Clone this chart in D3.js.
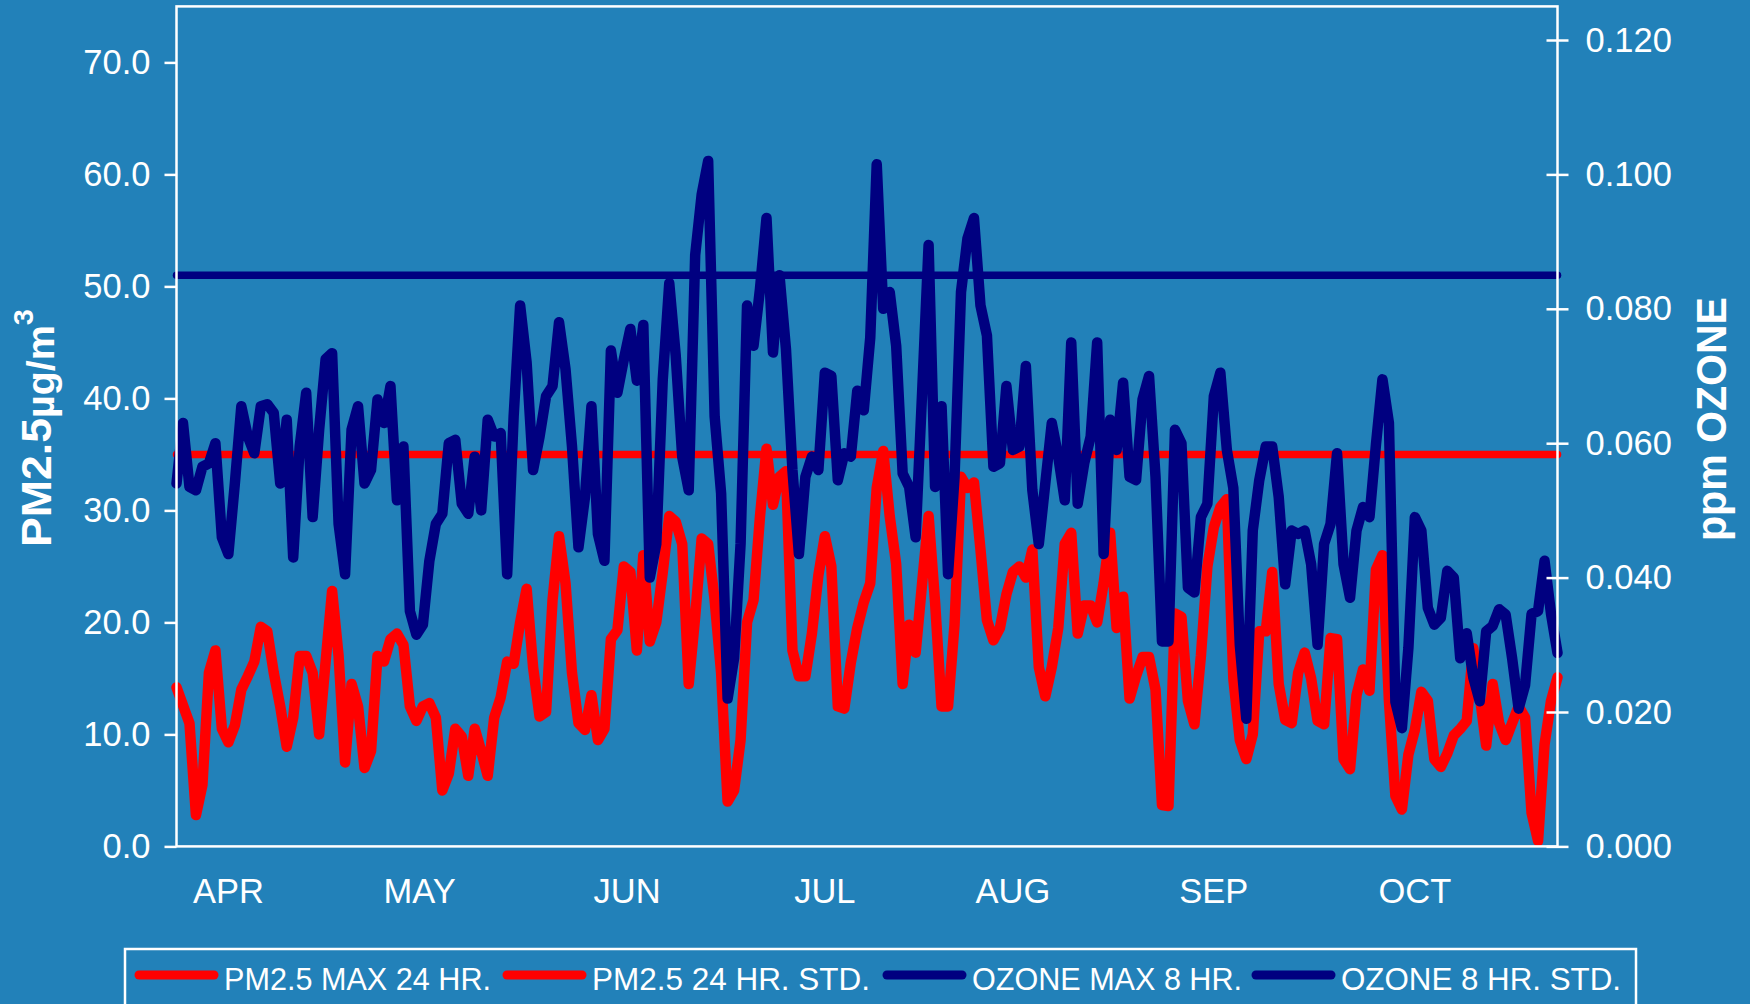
<!DOCTYPE html>
<html>
<head>
<meta charset="utf-8">
<script src="https://cdn.jsdelivr.net/npm/d3@7"></script>
<style>
html,body{margin:0;padding:0;background:#2281b9;}
svg{display:block;}
text{font-family:"Liberation Sans",Arial,sans-serif;fill:#fff;}
</style>
</head>
<body>
<svg id="chart" width="1750" height="1004"></svg>
<script>
// ---- DATA (daily, Apr 1 .. Oct 31) ----
const pm25Max = [
14.2,12.6,11.0,2.8,5.5,15.5,17.5,10.5,9.3,10.8,14.0,15.2,16.5,19.6,19.2,15.5,12.5,8.9,11.5,17.0,17.0,15.5,10.0,16.5,22.8,17.0,7.5,
14.5,12.5,7.0,8.5,17.0,16.5,18.5,19.0,18.0,12.5,11.2,12.5,12.8,11.5,5.0,6.5,10.5,9.8,6.3,10.5,8.5,6.3,11.5,13.3,16.5,
16.3,20.0,23.0,16.0,11.6,12.0,22.0,27.7,23.5,15.5,11.0,10.4,13.5,9.5,10.5,18.5,19.3,25.0,24.5,17.5,26.0,18.3,20.0,24.5,29.5,29.0,
27.0,14.5,20.5,27.5,27.0,22.0,15.5,4.0,5.0,9.5,20.0,22.0,29.5,35.5,30.5,33.0,33.5,
17.5,15.2,15.2,19.0,24.2,27.7,25.0,12.5,12.3,16.4,19.5,21.8,23.5,32.0,35.3,29.5,25.2,14.5,19.8,17.3,23.5,29.5,21.8,12.5,12.5,19.8,33.0,32.0,32.5,26.5,20.2,18.4,19.5,22.5,24.5,25.0,24.0,
26.5,16.0,13.4,16.0,19.5,27.0,28.0,19.0,21.5,21.5,20.0,23.5,28.0,19.5,22.3,13.2,15.2,16.9,16.9,14.0,3.7,3.6,20.8,20.5,13.0,10.9,17.0,25.0,28.5,30.3,31.0,15.0,9.5,7.8,10.0,19.2,19.2,24.5,14.5,11.3,
11.0,15.5,17.3,15.0,11.2,10.9,18.6,18.5,7.8,6.9,13.5,15.8,13.9,24.7,26.0,13.0,4.5,3.3,8.2,10.4,13.8,13.0,7.8,7.1,8.3,9.9,10.5,11.2,17.7,13.5,9.0,14.5,11.0,9.5,11.0,12.5,11.5,3.0,0.5,9.1,13.0,15.1
];
const ozoneMax = [
0.0540,0.0630,0.0535,0.0530,0.0565,0.0570,0.0600,0.0460,0.0435,0.0540,0.0655,0.0610,0.0585,0.0655,0.0658,0.0645,0.0540,0.0635,0.0430,0.0595,0.0675,0.0490,0.0620,0.0725,0.0734,0.0480,0.0405,
0.0620,0.0655,0.0540,0.0560,0.0665,0.0630,0.0685,0.0515,0.0595,0.0350,0.0315,0.0330,0.0425,0.0480,0.0495,0.0600,0.0605,0.0510,0.0495,0.0580,0.0500,0.0635,0.0610,0.0615,0.0405,
0.0640,0.0805,0.0720,0.0560,0.0610,0.0670,0.0685,0.0780,0.0710,0.0595,0.0445,0.0520,0.0655,0.0465,0.0425,0.0738,0.0675,0.0725,0.0770,0.0693,0.0776,0.0400,0.0450,0.0695,0.0838,0.0730,
0.0580,0.0530,0.0880,0.0970,0.1020,0.0640,0.0525,0.0220,0.0280,0.0450,0.0805,0.0745,0.0830,0.0935,0.0735,0.0850,0.0740,
0.0560,0.0435,0.0550,0.0580,0.0560,0.0705,0.0700,0.0545,0.0585,0.0580,0.0678,0.0649,0.0757,0.1015,0.0800,0.0825,0.0745,0.0555,0.0535,0.0460,0.0675,0.0895,0.0535,0.0655,0.0405,0.0550,0.0825,0.0905,0.0935,0.0805,0.0760,0.0565,0.0570,0.0685,0.0590,0.0595,0.0715,
0.0530,0.0450,0.0540,0.0630,0.0580,0.0515,0.0750,0.0510,0.0570,0.0610,0.0750,0.0435,0.0635,0.0590,0.0690,0.0550,0.0545,0.0665,0.0700,0.0550,0.0305,0.0305,0.0620,0.0600,0.0385,0.0378,0.0490,0.0510,0.0670,0.0705,0.0590,0.0533,0.0300,0.0190,0.0470,0.0545,0.0595,0.0595,0.0520,0.0390,
0.0470,0.0465,0.0470,0.0420,0.0300,0.0450,0.0480,0.0585,0.0420,0.0370,0.0470,0.0505,0.0490,0.0598,0.0695,0.0630,0.0215,0.0176,0.0295,0.0490,0.0470,0.0355,0.0330,0.0340,0.0410,0.0400,0.0280,0.0317,0.0252,0.0216,0.0320,0.0328,0.0353,0.0345,0.0280,0.0205,0.0240,0.0346,0.0350,0.0425,0.0346,0.0288
];
const pm25Std = 35;
const ozoneStd = 0.085;
const monthLabels = ["APR","MAY","JUN","JUL","AUG","SEP","OCT"];
const monthLabelDay = [8,37.5,69.5,100,129,160,191];
const leftTicks = [0,10,20,30,40,50,60,70];
const rightTicks = [0,0.02,0.04,0.06,0.08,0.10,0.12];
const legendLabels = ["PM2.5 MAX 24 HR.","PM2.5 24 HR. STD.","OZONE MAX 8 HR.","OZONE 8 HR. STD."];
const legendColors = ["#ff0000","#ff0000","#000080","#000080"];

// ---- LAYOUT ----
const svg = d3.select("#chart");
const L = 176.5, R = 1557.5, T = 6.4, B = 846.4;
const RED = "#ff0000", NAVY = "#000080";

const days = d3.range(pm25Max.length);
const x = d3.scaleLinear().domain([0, pm25Max.length - 1]).range([L, R]);
const yL = d3.scaleLinear().domain([0, 75]).range([B, T]);
const yR = d3.scaleLinear().domain([0, 0.125]).range([B, T]);

svg.append("rect").attr("width",1750).attr("height",1004).attr("fill","#2281b9");

// data lines
const linePM = d3.line().x((d,i)=>x(i)).y(d=>yL(d));
const lineOZ = d3.line().x((d,i)=>x(i)).y(d=>yR(d));
const g = svg.append("g");
g.append("path").datum(pm25Max).attr("d",linePM)
  .attr("fill","none").attr("stroke",RED).attr("stroke-width",10.5)
  .attr("stroke-linejoin","round").attr("stroke-linecap","round");
g.append("path").datum(days.map(()=>pm25Std)).attr("d",linePM)
  .attr("fill","none").attr("stroke",RED).attr("stroke-width",7.5)
  .attr("stroke-linecap","round");
g.append("path").datum(ozoneMax).attr("d",lineOZ)
  .attr("fill","none").attr("stroke",NAVY).attr("stroke-width",10.5)
  .attr("stroke-linejoin","round").attr("stroke-linecap","round");
g.append("path").datum(days.map(()=>ozoneStd)).attr("d",lineOZ)
  .attr("fill","none").attr("stroke",NAVY).attr("stroke-width",7.5)
  .attr("stroke-linecap","round");

// frame
svg.append("rect").attr("x",L).attr("y",T).attr("width",R-L).attr("height",B-T)
  .attr("fill","none").attr("stroke","#fff").attr("stroke-width",2.5);

// left axis
const axL = svg.append("g").attr("transform",`translate(${L},0)`)
  .call(d3.axisLeft(yL).tickValues(leftTicks).tickFormat(d3.format(".1f")).tickSize(12).tickPadding(14));
axL.select(".domain").remove();
axL.selectAll("line").attr("stroke","#fff").attr("stroke-width",2.5);
axL.selectAll("text").attr("fill","#fff").style("font-size","34.5px")
  .style("font-family","'Liberation Sans',Arial,sans-serif");

// right axis
const axR = svg.append("g").attr("transform",`translate(${R},0)`)
  .call(d3.axisRight(yR).tickValues(rightTicks).tickFormat(d3.format(".3f")).tickSize(11).tickPadding(17));
axR.select(".domain").remove();
axR.selectAll("line").attr("x1",-11).attr("x2",11).attr("stroke","#fff").attr("stroke-width",2.5);
axR.selectAll("text").attr("fill","#fff").style("font-size","34.5px")
  .style("font-family","'Liberation Sans',Arial,sans-serif");

// month labels
svg.append("g").selectAll("text").data(monthLabels).join("text")
  .attr("x",(d,i)=>x(monthLabelDay[i]))
  .attr("y",903)
  .attr("text-anchor","middle")
  .style("font-size","34.5px")
  .text(d=>d);

// axis titles
const tl = svg.append("text").attr("transform","translate(51,428) rotate(-90)")
  .attr("text-anchor","middle").style("font-size","43px").style("font-weight","bold")
  .attr("textLength",238).attr("lengthAdjust","spacingAndGlyphs");
tl.append("tspan").text("PM2.5");
tl.append("tspan").attr("dy",3).style("font-size","38px").text("µg/m");
tl.append("tspan").attr("dy",-21).style("font-size","28px").text("3");

svg.append("text").attr("transform","translate(1726,419) rotate(-90)")
  .attr("text-anchor","middle").style("font-size","43px").style("font-weight","bold")
  .attr("textLength",244).attr("lengthAdjust","spacingAndGlyphs")
  .text("ppm OZONE");

// legend
svg.append("rect").attr("x",125).attr("y",949).attr("width",1511).attr("height",70)
  .attr("fill","none").attr("stroke","#fff").attr("stroke-width",2.5);
const legX = [135,503,883,1252];
const legW = [267,278,270,280];
const lg = svg.append("g").selectAll("g").data(legendLabels).join("g")
  .attr("transform",(d,i)=>`translate(${legX[i]},0)`);
lg.append("line").attr("x1",4).attr("x2",79).attr("y1",975).attr("y2",975)
  .attr("stroke",(d,i)=>legendColors[i]).attr("stroke-width",9).attr("stroke-linecap","round");
lg.append("text").attr("x",89).attr("y",989.5).style("font-size","32px")
  .attr("textLength",(d,i)=>legW[i]).attr("lengthAdjust","spacingAndGlyphs")
  .text(d=>d);
</script>
</body>
</html>
